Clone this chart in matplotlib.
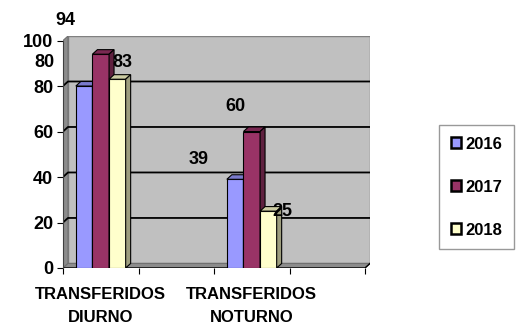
import matplotlib
matplotlib.use("Agg")
import matplotlib.pyplot as plt
from matplotlib.patches import Polygon, Rectangle, Patch
import numpy as np

# ---- data ----
categories = ["TRANSFERIDOS\nDIURNO", "", "TRANSFERIDOS\nNOTURNO", ""]
series_names = ["2016", "2017", "2018"]
values_2016 = [80, None, 39, None]
values_2017 = [94, None, 60, None]
values_2018 = [83, None, 25, None]
series_values = [values_2016, values_2017, values_2018]
series_colors = ["#9999FF", "#993366", "#FFFFCC"]
y_ticks = [0, 20, 40, 60, 80, 100]

# label placement (offset from bar centre in x, absolute y in data units)
label_dx = [[-0.52, -0.48], [-0.47, -0.21], [0.06, 0.19]]
label_y = [[90.5, 47.5], [108.6, 70.8], [90.5, 25.0]]

FONT = "Liberation Sans"
W, H = 517, 329
fig = plt.figure(figsize=(W / 100, H / 100), dpi=100)
fig.patch.set_facecolor("white")

# axes box in pixels
L, R, T, B = 63, 370, 36, 268
ax = fig.add_axes([L / W, (H - B) / H, (R - L) / W, (B - T) / H])
ax.set_facecolor("none")

dx, dy = 0.066, 2.0
xmin, xmax = -0.5, 3.5
ax.set_xlim(xmin, xmax + dx)
ax.set_ylim(0, 100 + dy)

# walls
wall = "#C0C0C0"
side = "#8C8C8C"
ax.add_patch(Rectangle((xmin + dx, dy), xmax - xmin, 100, facecolor=wall,
                       edgecolor="#808080", lw=1.0, zorder=0))
ax.add_patch(Polygon([(xmin, 0), (xmin, 100), (xmin + dx, 100 + dy), (xmin + dx, dy)],
                     closed=True, facecolor=side, edgecolor="#707070", lw=0.8, zorder=0.5))
ax.add_patch(Polygon([(xmin, 0), (xmax, 0), (xmax + dx, dy), (xmin + dx, dy)],
                     closed=True, facecolor=side, edgecolor="#707070", lw=0.8, zorder=0.5))
for v in y_ticks[1:-1]:
    ax.plot([xmin, xmin + dx, xmax + dx], [v, v + dy, v + dy], color="black", lw=1.3, zorder=1)
ax.plot([xmin, xmax, xmax + dx], [0, 0, dy], color="black", lw=1.0, zorder=1)

# 3D bars
bw = 0.22
offsets = [-bw, 0.0, bw]
x = np.arange(len(categories))

def shade(c, f):
    rgb = np.array(matplotlib.colors.to_rgb(c))
    return tuple(rgb * f)

for si, (vals, col) in enumerate(zip(series_values, series_colors)):
    for ci, v in enumerate(vals):
        if v is None:
            continue
        x0 = x[ci] + offsets[si] - bw / 2
        z = 2 + si
        ax.bar(x[ci] + offsets[si], v, width=bw, color=col, edgecolor="black", lw=0.8, zorder=z)
        ax.add_patch(Polygon([(x0, v), (x0 + bw, v), (x0 + bw + dx, v + dy), (x0 + dx, v + dy)],
                             closed=True, facecolor=shade(col, 0.8), edgecolor="black", lw=0.8, zorder=z))
        ax.add_patch(Polygon([(x0 + bw, 0), (x0 + bw, v), (x0 + bw + dx, v + dy), (x0 + bw + dx, dy)],
                             closed=True, facecolor=shade(col, 0.62), edgecolor="black", lw=0.8, zorder=z))

# value labels
ci_list = [0, 2]
for si, vals in enumerate(series_values):
    for k, ci in enumerate(ci_list):
        ax.text(x[ci] + offsets[si] + label_dx[si][k], label_y[si][k], str(vals[ci]),
                ha="center", va="center", fontsize=13, fontweight="bold",
                family=FONT, zorder=10, clip_on=False)

# axes / ticks
for s in ["top", "right", "bottom"]:
    ax.spines[s].set_visible(False)
ax.spines["left"].set_bounds(0, 100)
ax.spines["left"].set_color("#404040")
ax.set_yticks(y_ticks)
ax.set_yticklabels([str(t) for t in y_ticks], fontsize=13, fontweight="bold", family=FONT)
ax.tick_params(axis="y", length=4, pad=3, color="black")

ax.set_xticks(np.arange(xmin, xmax + 0.01, 1.0))
ax.set_xticklabels([])
ax.tick_params(axis="x", which="major", length=4, color="black", direction="out")
ax.set_xticks(x, minor=True)
ax.set_xticklabels(categories, minor=True, fontsize=12, fontweight="bold", family=FONT,
                   linespacing=1.6)
ax.tick_params(axis="x", which="minor", length=0, pad=14)

# legend
handles = [Patch(facecolor=c, edgecolor="black", lw=1.8) for c in series_colors]
leg = fig.legend(handles, series_names, loc="upper left",
                 bbox_to_anchor=(439 / W, 1 - 125 / H),
                 prop={"family": FONT, "weight": "bold", "size": 12},
                 frameon=True, fancybox=False, edgecolor="#808080",
                 handlelength=0.6, handleheight=0.6, handletextpad=0.3,
                 labelspacing=1.68, borderpad=0.7, borderaxespad=0)
leg.get_frame().set_linewidth(1.0)

fig.savefig("out.png", dpi=100)
